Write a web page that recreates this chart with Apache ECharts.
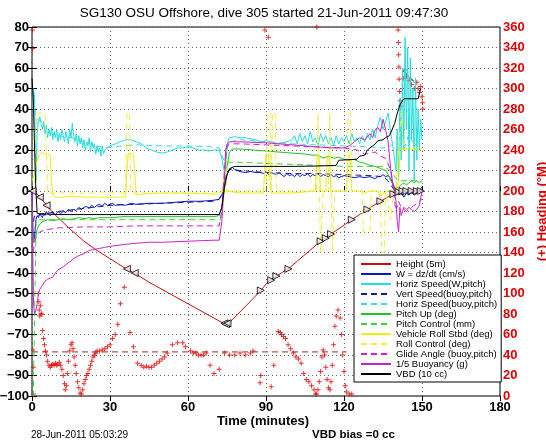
<!DOCTYPE html>
<html><head><meta charset="utf-8">
<script src="https://cdn.jsdelivr.net/npm/echarts/dist/echarts.min.js"></script>
<style>html,body{margin:0;padding:0;background:#fff}#c{width:546px;height:442px}</style>
</head><body><div id="c"></div>
<script>
// ---------- text ----------
const titleText = 'SG130 OSU Offshore, dive 305 started 21-Jun-2011 09:47:30';
const xAxisTitle = 'Time (minutes)';
const rightAxisTitle = '(+) Heading (\u00B0M)';
const dateText = '28-Jun-2011 05:03:29';
const vbdText = 'VBD bias =0 cc';
const legendNames = ['Height (5m)','W = dz/dt (cm/s)','Horiz Speed(W,pitch)','Vert Speed(buoy,pitch)','Horiz Speed(buoy,pitch)','Pitch Up (deg)','Pitch Control (mm)','Vehicle Roll Stbd (deg)','Roll Control (deg)','Glide Angle (buoy,pitch)','1/5 Buoyancy (g)','VBD (10 cc)'];

// ---------- data: [time (min), value] ----------
const heightLine = [[0,0],[1,-0.5],[2,-1.5],[3,-3],[4,-4.5],[5,-6],[6,-7.5],[8,-10.5],[10,-13],[15,-19],[20,-24.5],[25,-29],[30,-33],[35,-37],[37,-38.5],[40,-40.5],[45,-44.5],[50,-48],[55,-51.5],[60,-55],[65,-58.5],[70,-62],[74,-64.8],[75,-65],[76,-64],[80,-59],[85,-52.5],[88,-48.5],[91,-44],[94,-41.5],[99,-37.5],[105,-31],[111,-24.5],[115,-21],[119,-17.5],[123,-14],[129,-9],[134,-5],[139,-1.5],[142,-0.5],[146,0],[150,0]];
const descentMarks = [[0.2,0],[3,-3],[5.6,-7],[36.5,-38],[39.5,-40],[74,-64.5],[74.6,-65],[75.2,-64.5]];
const ascentMarks = [[88,-48.5],[92,-43.5],[94,-41.5],[98.6,-38],[111,-24.5],[113,-23],[115,-21],[123,-14],[129,-9],[134,-5],[139,-1.5],[141,-0.5],[142.5,0],[144,0],[146,0],[148,0],[149.5,0]];

const heading = [[0.2,357],[0.3,339],[0.4,45],[0.5,28],[0.6,2],[2.4,100],[2.6,92],[2.8,84],[3,78],[3.2,88],[3.5,80],[3.8,80],[4.1,64],[4.4,56],[4.8,50],[5.2,44],[5.6,40],[6,34],[6.5,30],[7,28],[7.5,30],[8,31],[8.5,30],[9,32],[9.5,30],[10,31],[10.5,33],[11,30],[11.5,26],[12,20],[12.5,12],[12.8,6],[13.2,10],[13.6,22],[14,34],[14.5,44],[15,50],[15.4,52],[15.8,46],[16.2,38],[16.6,30],[17,22],[17.5,14],[18,8],[18.5,3],[19,2],[19.5,6],[20,12],[20.5,16],[21,20],[21.5,22],[22,26],[22.5,30],[23,34],[23.5,38],[24,40],[24.5,42],[25,44],[26,44],[27,45],[28,46],[29,48],[30,50],[31,56],[32,60],[33,70],[34,90],[35.5,106],[37.7,62],[39,48],[40.6,32],[42,30],[43,28],[44,29],[45,28],[46,28],[47,30],[48,32],[49,34],[50,36],[51,38],[52,42],[54,50],[56,52],[58,52],[59,48],[61,44],[62,42],[63,42],[64,40],[65,40],[66,40],[67,42],[68.5,30],[70,22],[72,26],[74,42],[76,40],[78,40],[80,42],[82,40],[84,42],[85,44],[87.7,13],[88,20],[89.6,357],[90.9,350],[92,9],[93,30],[94.7,63],[95.5,62],[96,60],[96.7,58],[97.5,56],[98.5,50],[99.5,46],[100.5,42],[101.5,38],[102.5,36],[103.5,32],[104.5,22],[105.5,16],[106.5,14],[107.5,10],[108.5,6],[109,2],[109.5,2],[109.5,360],[110,6],[110.5,14],[111,24],[111.5,38],[112,45],[112.5,40],[113,28],[113.5,16],[114,8],[114.6,6],[115,14],[115.5,30],[116,50],[116.5,68],[117,78],[117.7,84],[118.5,76],[119,60],[119.5,40],[120,24],[120.5,10],[121,4],[122,2],[123,2],[140.8,357],[140.9,345],[141,333],[141.1,321],[141.2,309],[141.4,297],[141.6,288],[141.8,283],[142.5,300],[143,310],[143.5,318],[144,312],[145,308],[146,304],[147,300],[148,306],[148.5,300],[149,296],[149.5,302],[150,292],[150.2,286],[150.3,280]];
const desiredHeadingA = [[0,43],[121,43]];
const desiredHeadingB = [[142.5,318],[148,304]];

const wSpeed = [[0,0],[0.5,-25],[1,-22],[1.5,-14],[2,-12],[2.5,-13],[3,-11],[3.5,-12],[4,-13],[4.5,-11],[5,-12],[5.5,-10],[6,-11],[7,-12],[8,-11],[9,-11.5],[10,-10],[11,-11],[12,-10],[13,-10.5],[14,-9],[15,-10],[16,-9],[17,-9.5],[18,-8],[19,-9],[20,-8],[21,-7.5],[22,-8.5],[23,-7],[24,-8],[25,-7],[26,-6.5],[27,-7.5],[28,-6],[29,-7],[30,-6.5],[31,-6],[32,-7],[34,-6.5],[36,-7],[38,-6],[40,-6.5],[45,-6],[50,-6],[55,-5.5],[60,-5],[65,-5],[70,-4.5],[72,-4],[73,-2],[74,2],[75,8],[76,11],[77,11.5],[78,10.5],[80,9.5],[82,9],[84,9.5],[86,9],[88,9],[89,8.5],[90,9.5],[91,8],[92,9],[93,8.5],[94,8],[95,9],[96,8],[97,7],[98,8.5],[99,7.5],[100,8],[101,7],[102,8.5],[103,7],[104,8],[105,7.5],[106,8.5],[107,7],[108,8],[109,7.5],[110,8.5],[111,7],[112,8],[113,7.5],[114,7],[115,8],[116,7],[117,7.5],[118,6.5],[120,7.5],[122,7],[124,6.5],[126,7],[128,6.5],[130,7],[132,6],[133,7],[134,7],[135,8],[136,7],[137,7.5],[138,6],[139,3],[140,0],[141,-2],[142,-1],[143,-3],[144,-1],[145,-2],[146,0],[147,-2],[148,-1],[149,0],[150,2]];
const horizSpeedW = [[0.3,40],[0.5,50],[0.8,48],[1,45],[1.2,30],[1.4,12],[1.6,5],[1.8,20],[2,28],[2.5,35],[3,36],[3.5,33],[4,30],[4.5,34],[5,28],[5.5,32],[6,26],[6.5,30],[7,27],[7.5,31],[8,25],[8.5,29],[9,26],[9.5,30],[10,24],[10.5,28],[11,25],[11.5,30],[12,27],[12.5,24],[13,29],[13.5,26],[14,23],[14.5,30],[15,26],[15.5,33],[16,27],[16.5,24],[17,28],[17.5,22],[18,27],[18.5,23],[19,26],[19.5,21],[20,25],[20.5,20],[21,24],[21.5,22],[22,26],[22.5,19],[23,24],[23.5,21],[24,23],[24.5,18],[25,22],[25.5,19],[26,21],[26.5,17],[27,22],[27.5,18],[28,20],[29,21],[30,22],[32,23],[34,24],[36,25],[38,25],[40,24],[42,23],[44,21],[46,20],[48,19],[50,18.5],[52,19],[54,20],[56,21],[58,21],[60,21.5],[62,21],[64,20],[66,20],[68,19.5],[70,20],[72,20],[73,16],[74,9],[74.5,12],[75,20],[75.5,25],[76,26],[78,26.5],[80,26],[82,26],[84,25.5],[86,25],[88,24],[90,24.5],[92,24],[94,23],[96,23.5],[98,24],[100,25],[101,27],[102,23],[103,28],[104,24],[105,27],[106,23],[107,29],[108,24],[109,26],[110,22],[111,28],[112,24],[113,27],[114,23],[115,26],[116,22],[117,27],[118,23],[119,26],[120,24],[121,27],[122,23],[123,28],[124,24],[125,26],[126,23],[127,27],[128,24],[129,28],[130,25],[131,30],[132,26],[133,32],[134,36],[135,30],[136,34],[137,38],[138,28],[139,20],[140,10],[140.5,30],[141,5],[141.5,45],[142,15],[142.5,60],[143,20],[143.5,75],[144,30],[144.5,70],[145,10],[145.5,65],[146,25],[146.5,50],[147,5],[147.5,55],[148,15],[148.5,40],[149,20],[149.5,35],[150,25]];
const vertSpeedBuoy = [[0.5,-15],[1,-12],[2,-12],[5,-11],[10,-10],[20,-8.5],[30,-7],[40,-6.5],[50,-6],[60,-5.5],[70,-5],[72,-4],[73,-1],[74,4],[75,9],[76,10.5],[80,10],[90,9],[100,8.5],[110,8.5],[120,8],[130,7.5],[135,7],[137,5],[139,1],[141,-1],[143,-2],[145,-1],[147,-1],[150,0]];
const horizSpeedBuoy = [[0.5,45],[1,40],[2,32],[3,35],[4,33],[5,30],[7,28],[10,27],[15,26],[20,24],[25,22],[28,21],[30,21.5],[35,22],[40,22.5],[50,22],[60,22],[70,21.5],[72,21],[73,18],[74,14],[75,20],[76,24],[80,25],[90,24],[100,23],[110,22.5],[120,22],[130,21.5],[135,21],[138,22],[140,25],[142,32],[143,20],[145,28],[147,22],[150,25]];
const pitchUp = [[0,-5],[0.3,-20],[0.6,-25],[1,-24],[1.5,-22],[2,-19],[2.5,-17],[3,-16],[4,-15],[5,-14.5],[6,-14],[8,-14.5],[10,-14],[12,-13.5],[14,-14],[16,-13.5],[18,-13],[20,-13.5],[22,-13],[24,-13.5],[26,-13],[28,-13],[30,-13],[35,-12.5],[40,-12.5],[50,-12.5],[60,-12.5],[70,-12.5],[72,-12],[73,-8],[74,0],[75,12],[76,19],[77,20.5],[80,20.5],[85,20],[90,19.5],[95,19],[100,18.5],[105,18],[108,17.5],[110,17.5],[112,16],[114,17],[116,16],[118,16.5],[120,15.5],[122,15],[124,15.5],[126,14],[128,13.5],[130,12.5],[132,12],[134,11],[136,10],[137,8],[138,5],[139,3],[140,1],[141,2],[142,3],[143,4],[144,3],[145,4],[146,5],[147,4],[148,5],[149,4],[150,5]];
const pitchControl = [[0.4,-110],[1,-60],[1.6,-14],[10,-14],[30,-14],[50,-14],[70,-14],[72.5,-14],[73.5,0],[74.5,14],[80,14],[90,13.5],[100,13],[110,12.5],[120,12],[130,12],[135,12],[138,10],[140,6],[142,5],[145,5],[150,5]];
const rollStbd = [[0,5],[1,8],[2,15],[3,18],[4,19],[5,18],[6,18.5],[7,17],[7.5,5],[8,-2],[9,-3],[12,-3],[15,-2.5],[20,-3],[25,-3],[30,-3],[34,-3],[36,-3],[36.5,10],[37,18],[38,18.5],[39,18],[39.5,10],[40,-2],[42,-1.5],[50,-1],[60,-1],[70,-1.5],[72,-1],[73,0],[74,-1],[75,0],[80,-1],[89,-1],[89.5,10],[90,18],[91,18],[91.5,5],[92,-1],[100,-1],[109,0],[109.5,15],[110,18],[110.5,15],[111,0],[113,0],[113.5,15],[114,18],[114.5,15],[115,0],[120,0],[121,0],[121.5,15],[122,18],[122.5,15],[123,0],[127,0],[128,-1],[130,0],[133,0],[134,-3],[135,-1],[137,0],[139,0],[140,1],[141,5],[141.5,21],[142,20],[145,21],[147,20],[149,21],[150,20]];
const rollControl = [[0,0],[1,0],[1.5,30],[2,38],[5,38],[5.5,20],[6,-1],[10,-1],[20,-1],[30,-1],[36,-1],[36.5,38],[37.5,38],[38,-1],[50,-1],[60,-1],[73,-1],[74,10],[74.5,22],[75,0],[80,0],[90,0],[90.5,38],[91.5,38],[92,0],[92.5,38],[93.5,38],[94,0],[100,0],[109.5,0],[110,38],[110.5,38],[111,-30],[111.5,-30],[112,0],[114,0],[114.5,38],[115,38],[115.5,-30],[116,-30],[116.5,0],[121,0],[121.5,38],[122.5,38],[123,0],[127,0],[127.5,-20],[130,-20],[130.5,0],[134,0],[134.5,-30],[135.5,-30],[136,0],[138,-14],[139,0],[140,0],[141,20],[142,38],[143,20],[145,21],[150,21]];
const glideAngle = [[0.5,-30],[1,-25],[2,-21],[3,-20],[5,-19],[10,-18],[20,-17.5],[30,-17.5],[40,-17],[50,-17],[60,-17],[70,-17],[72,-17],[73,-10],[74,10],[75,22],[76,23],[80,23],[90,22.5],[100,22],[110,21.5],[120,21],[125,20],[128,18],[130,18.5],[132,19],[134,17],[136,16],[138,10],[139,0],[140,-10],[141,-5],[142,-8],[144,-10],[146,-8],[148,-6],[150,-4]];
const buoyancy = [[0,0],[0.3,-30],[0.6,-55],[1,-60],[1.5,-58],[2,-55],[2.5,-50],[3,-48],[4,-46],[5,-44],[6,-43],[7,-42.5],[8,-42],[9,-40],[10,-38.5],[12,-37],[14,-35],[16,-33],[18,-31.5],[20,-30.5],[22,-29],[24,-28.5],[26,-28],[28,-27.5],[30,-27],[33,-26.5],[36,-26],[40,-25.5],[45,-25],[50,-25],[60,-24.5],[70,-24],[72,-24],[73,-15],[74,5],[74.5,20],[75,23],[76,24],[80,24],[90,23.5],[100,22.5],[110,21.5],[115,21],[120,21],[122,22],[124,24],[126,26],[128,25],[130,28],[131,26],[132,30],[133,31],[134,29],[135,35],[136,30],[137,24],[138,10],[139,2],[140,-5],[140.5,-15],[141,-20],[141.5,-8],[142,-12],[143,-8],[144,-9],[145,-8],[146,-9],[147,-10],[148,-9],[149,-7],[150,0]];
const vbd = [[0,55],[0.5,45],[1,20],[1.5,0],[2,-11],[10,-11.5],[30,-11.5],[50,-11.5],[72,-11.5],[73,-8],[74,2],[75,8],[76,10.5],[77,11.5],[78,12],[90,12],[100,12],[110,12.2],[117,12.5],[118,15],[125,15.5],[126,17],[128,17.5],[129,20],[130,21],[131,22],[132,23],[133,24.5],[135,25],[136,26],[137.5,27],[138.5,30],[139.5,33],[140.5,38],[141.5,42],[143,45],[148.5,45],[149.5,50]];

// ---------- chart ----------
const FONT = 'Liberation Sans, Arial, Helvetica, sans-serif';
const plusPath = 'path://M4,0h2v4h4v2h-4v4h-2v-4h-4v-2h4z';
const minus = v => String(v).replace('-', '\u2212');

function line(name, data, color, dashed, z) {
  return { name, type: 'line', data, symbol: 'none', showSymbol: false, silent: true,
    lineStyle: { color, width: 1, type: dashed ? [6, 4] : 'solid' },
    itemStyle: { color }, z: z, animation: false };
}

const series = [
  { type: 'scatter', yAxisIndex: 1, data: heading, symbol: plusPath, symbolSize: 5,
    itemStyle: { color: '#e00000' }, silent: true, z: 1 },
  { type: 'line', yAxisIndex: 1, data: desiredHeadingA, symbol: 'none', silent: true,
    lineStyle: { color: '#b05858', width: 1.2, type: [6, 4] }, z: 1 },
  { type: 'line', yAxisIndex: 1, data: desiredHeadingB, symbol: 'none', silent: true,
    lineStyle: { color: '#903030', width: 1.2, type: [6, 4] }, z: 1 },
  line(legendNames[0], heightLine, '#c41010', false, 2),
  line(legendNames[1], wSpeed, '#0a18c8', false, 3),
  line(legendNames[2], horizSpeedW, '#22dede', false, 3),
  line(legendNames[3], vertSpeedBuoy, '#1a1a90', true, 3),
  line(legendNames[4], horizSpeedBuoy, '#3cdcdc', true, 3),
  line(legendNames[5], pitchUp, '#22c422', false, 3),
  line(legendNames[6], pitchControl, '#3cd43c', true, 3),
  line(legendNames[7], rollStbd, '#eeee10', false, 3),
  line(legendNames[8], rollControl, '#eeee40', true, 3),
  line(legendNames[9], glideAngle, '#d020d0', true, 3),
  line(legendNames[10], buoyancy, '#cc22cc', false, 3),
  line(legendNames[11], vbd, '#000000', false, 3),
  { type: 'scatter', data: descentMarks, symbol: 'triangle', symbolRotate: 90, symbolSize: 7,
    itemStyle: { color: '#f2e6e6', borderColor: '#000', borderWidth: 1 }, silent: true, z: 4 },
  { type: 'scatter', data: ascentMarks, symbol: 'triangle', symbolRotate: -90, symbolSize: 7,
    itemStyle: { color: '#f2e6e6', borderColor: '#000', borderWidth: 1 }, silent: true, z: 4 }
];

const splitDot = { show: true, lineStyle: { color: '#666', width: 1, type: [1, 3] } };
const option = {
  animation: false,
  backgroundColor: '#fff',
  grid: { left: 32, right: 46, top: 27, bottom: 46, outerBoundsMode: 'none', containLabel: false,
    show: true, borderColor: '#000', borderWidth: 1, backgroundColor: 'transparent' },
  xAxis: [
    { type: 'value', min: 0, max: 180, interval: 30, position: 'bottom',
      axisLine: { show: false }, axisTick: { show: true, inside: true, length: 5, lineStyle: { color: '#000' } },
      axisLabel: { color: '#000', fontFamily: FONT, fontWeight: 'bold', fontSize: 13, margin: 5 },
      splitLine: splitDot },
    { type: 'value', min: 0, max: 180, interval: 30, position: 'top',
      axisLine: { show: false }, axisTick: { show: true, inside: true, length: 5, lineStyle: { color: '#000' } },
      axisLabel: { show: false }, splitLine: { show: false } }
  ],
  yAxis: [
    { type: 'value', min: -100, max: 80, interval: 10, position: 'left',
      axisLine: { show: false }, axisTick: { show: true, inside: true, length: 5, lineStyle: { color: '#000' } },
      axisLabel: { color: '#000', fontFamily: FONT, fontWeight: 'bold', fontSize: 13, margin: 3, formatter: minus },
      splitLine: splitDot },
    { type: 'value', min: 0, max: 360, interval: 20, position: 'right',
      axisLine: { show: false }, axisTick: { show: true, inside: true, length: 5, lineStyle: { color: '#000' } },
      axisLabel: { color: '#e00000', fontFamily: FONT, fontWeight: 'bold', fontSize: 13, margin: 3 },
      splitLine: { show: false },
      name: rightAxisTitle, nameLocation: 'middle', nameGap: 29, nameRotate: 90,
      nameTextStyle: { color: '#e00000', fontFamily: FONT, fontWeight: 'bold', fontSize: 13 } }
  ],
  legend: {
    data: legendNames, orient: 'vertical', left: 354, top: 255,
    padding: [4, 4, 3, 6], itemGap: 0, itemWidth: 30, itemHeight: 11,
    backgroundColor: '#fff', borderColor: '#000', borderWidth: 1,
    textStyle: { fontFamily: FONT, fontSize: 9.5, color: '#000' },
    itemStyle: { opacity: 0 },
    lineStyle: { width: 2 }, selectedMode: false
  },
  graphic: [
    { type: 'text', style: { text: titleText, x: 264, y: 13, textAlign: 'center', textVerticalAlign: 'middle', font: '13.5px ' + FONT, fill: '#000' } },
    { type: 'text', style: { text: xAxisTitle, x: 263, y: 421, textAlign: 'center', textVerticalAlign: 'middle', font: 'bold 13px ' + FONT, fill: '#000' } },
    { type: 'text', style: { text: dateText, x: 31, y: 435, textAlign: 'left', textVerticalAlign: 'middle', font: '10px ' + FONT, fill: '#000' } },
    { type: 'text', style: { text: vbdText, x: 312, y: 435, textAlign: 'left', textVerticalAlign: 'middle', font: 'bold 11.5px ' + FONT, fill: '#000' } }
  ],
  series
};
const chart = echarts.init(document.getElementById('c'));
chart.setOption(option);
</script></body></html>
